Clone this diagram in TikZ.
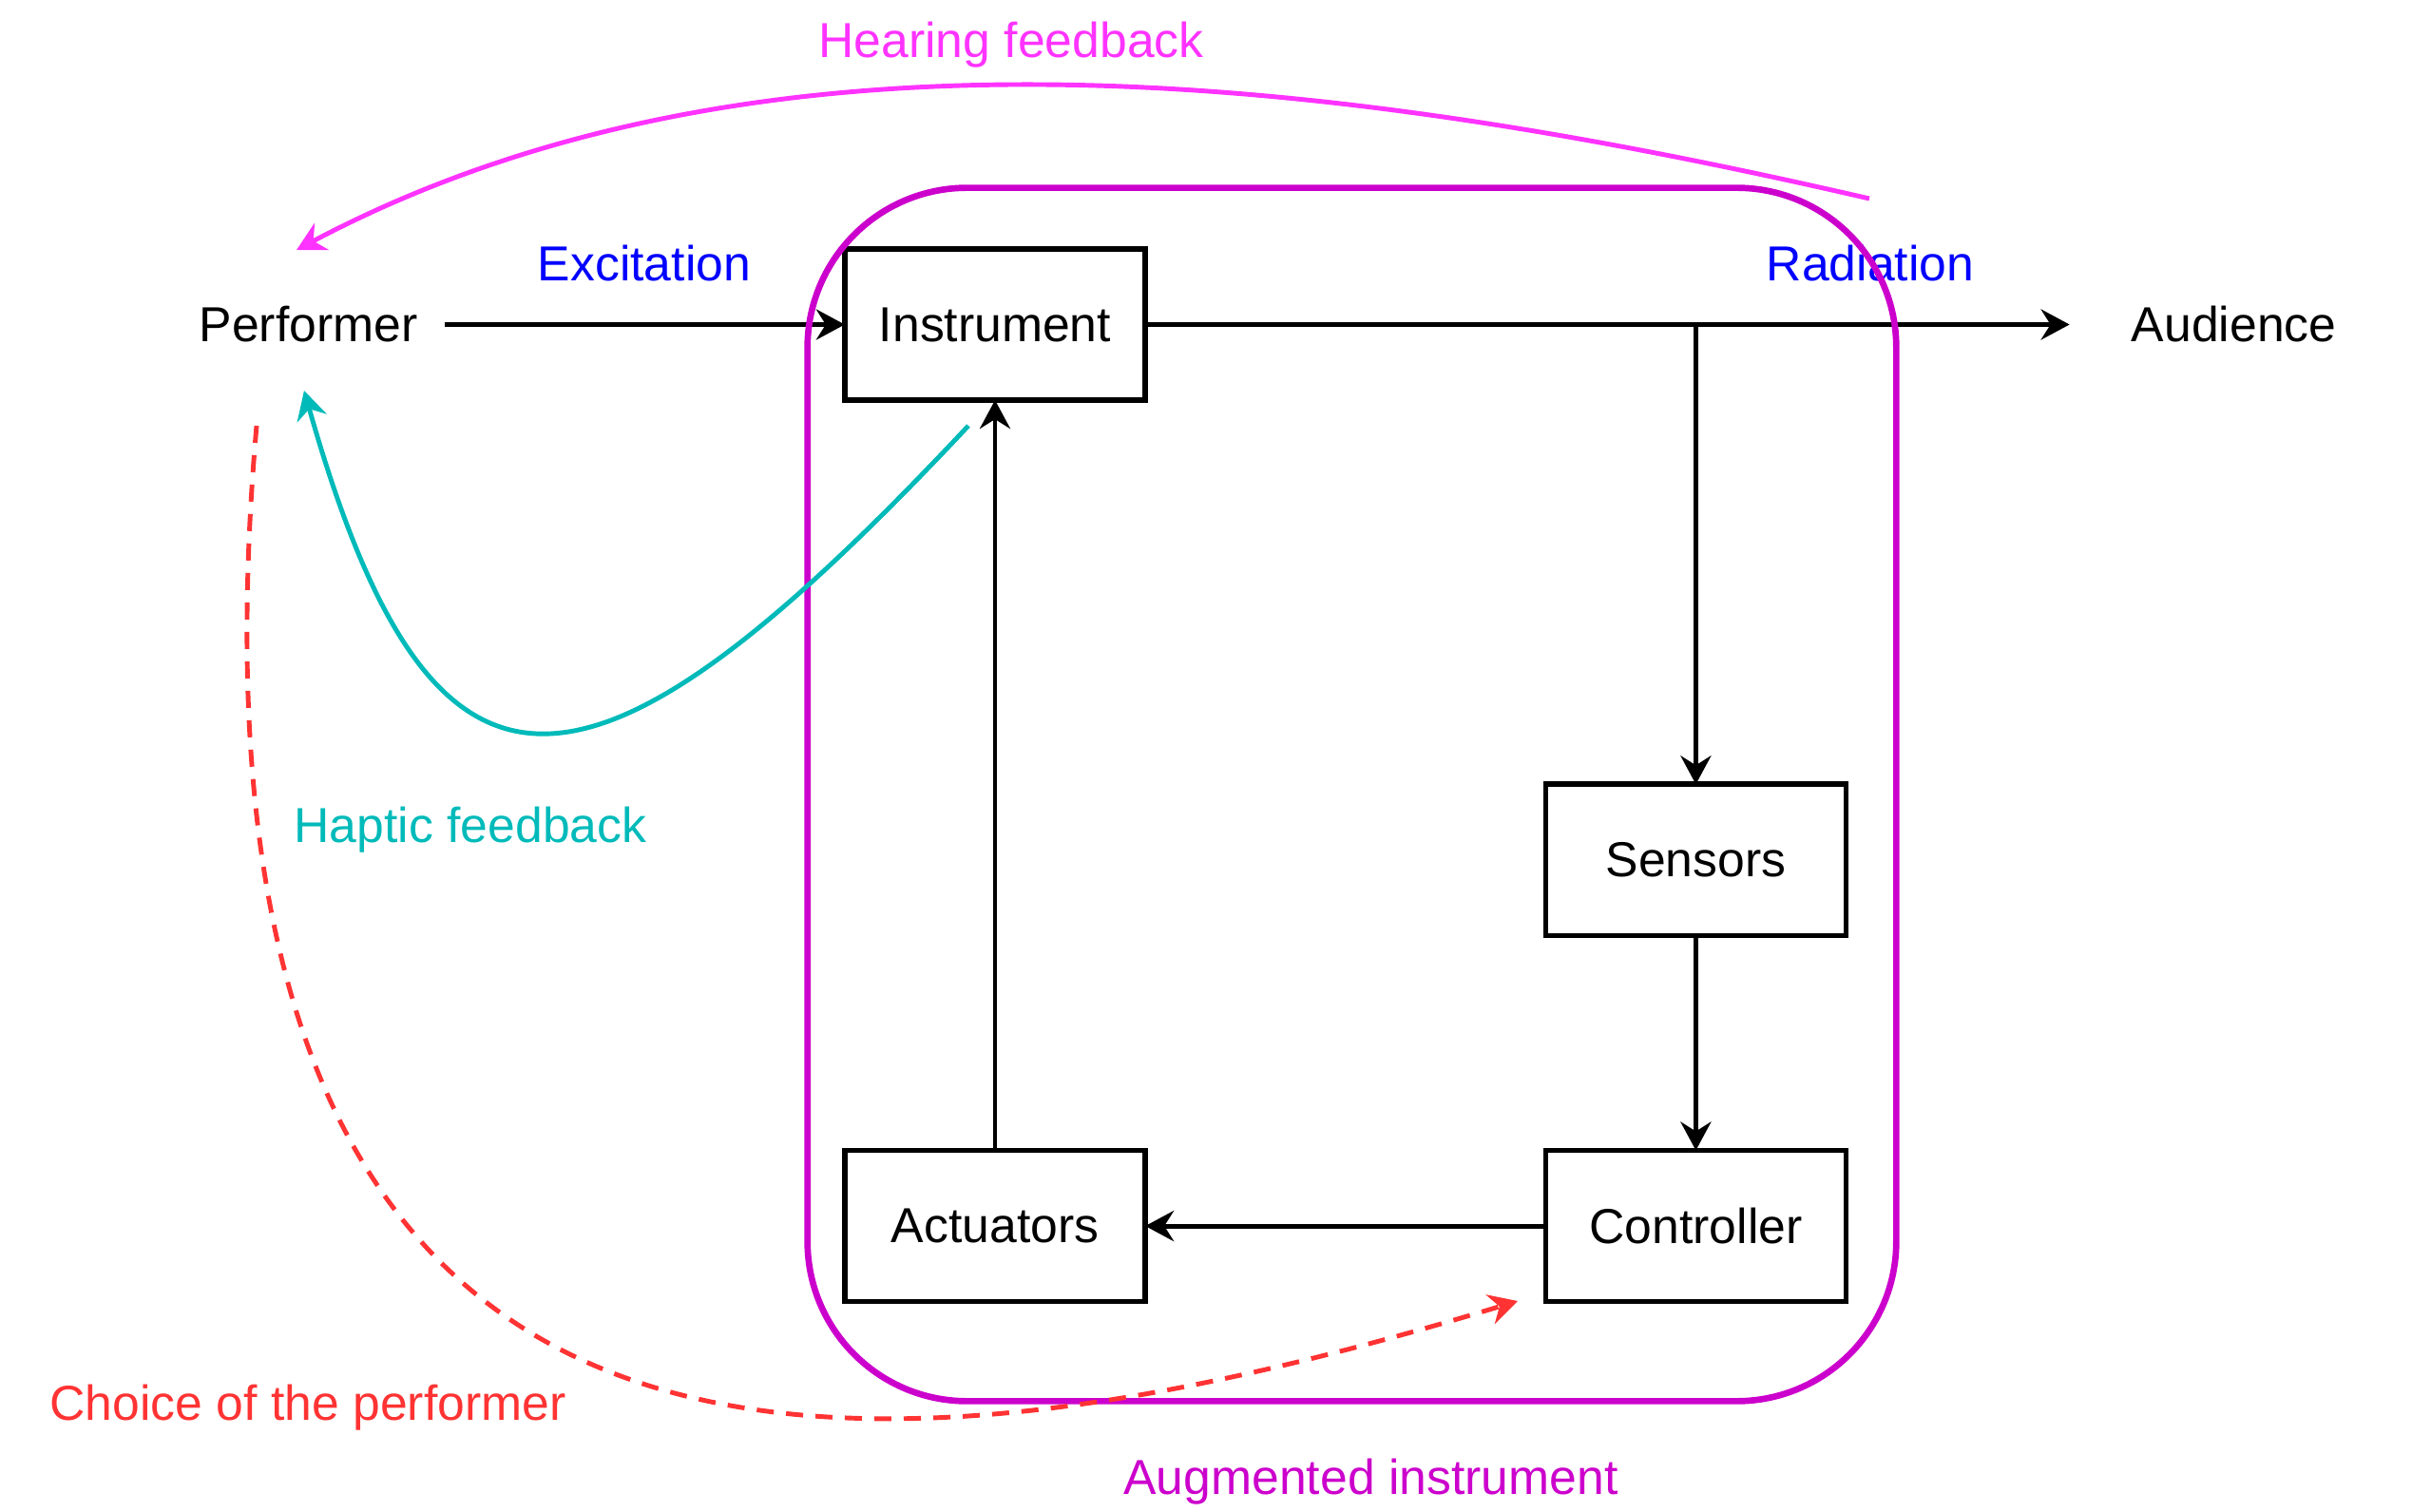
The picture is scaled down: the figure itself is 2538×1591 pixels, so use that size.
\documentclass[tikz,border=0pt]{standalone}
\usepackage{fontspec}
\setmainfont{Liberation Sans}
\usetikzlibrary{arrows.meta, positioning}
\definecolor{hearing}{HTML}{FF33FF}
\definecolor{augment}{HTML}{CC00CC}
\definecolor{signal}{HTML}{0000FF}
\definecolor{haptic}{HTML}{00BABA}
\definecolor{choice}{HTML}{FF3333}

\begin{document}
\begin{tikzpicture}[
  x=0.01cm, y=-0.01cm,
  font=\fontsize{14.7}{17.6}\selectfont,
  block/.style={draw=black, line width=1.6pt, minimum width=3.16cm,
                minimum height=1.59cm, inner sep=0pt, outer sep=0pt},
  actor/.style={inner sep=0pt, outer sep=0pt, minimum height=1.59cm},
  lbl/.style={anchor=base, inner sep=0pt},
  arr/.style={-{Stealth[length=0.3cm, width=0.32cm, inset=0.1cm]}, line width=1.4pt},
  fb/.style={-{Stealth[length=0.3cm, width=0.32cm, inset=0.1cm]}, line width=1.4pt}
]
  \useasboundingbox (0,0) rectangle (2538,1591);

  \node[block] (instrument) at (1047,341.5) {Instrument};
  \node[block, below=7.89cm of instrument] (actuators) {Actuators};
  \node[block, right=4.21cm of actuators] (controller) {Controller};
  \node[block, above=2.26cm of controller] (sensors) {Sensors};
  \node[actor, minimum width=2.86cm, left=4.21cm of instrument] (performer) {Performer};
  \node[actor, minimum width=3.46cm, right=9.72cm of instrument] (audience) {Audience};

  \coordinate (split) at (sensors.north |- instrument.east);
  \draw[arr] (performer) -- (instrument);
  \draw[arr] (instrument) -- (audience);
  \draw[arr] (split) -- (sensors);
  \draw[arr] (sensors) -- (controller);
  \draw[arr] (controller) -- (actuators);
  \draw[arr] (actuators) -- (instrument);

  \node[lbl, text=signal] (excitation) at (678,296) {Excitation};
  \node[lbl, text=signal] (radiation) at (1968,296) {Radiation};
  \node[lbl, text=hearing] (hearinglbl) at (1064,61) {Hearing feedback};
  \node[lbl, text=haptic] (hapticlbl) at (495,886) {Haptic feedback};
  \node[lbl, text=choice] (choicelbl) at (324,1494) {Choice of the performer};
  \node[lbl, text=augment] (auglbl) at (1442.5,1572) {Augmented instrument};

  % augmented instrument frame
  \node[draw=augment, line width=1.9pt, rounded corners=1.68cm, minimum width=11.45cm,
        minimum height=12.76cm, inner sep=0pt] (augbox) at (1422.5,836) {};

  % feedback loops
  \coordinate (hearstart) at (1967,209);
  \coordinate (hearend) at (312,263);
  \draw[fb, hearing] (hearstart) .. controls (1383,74) and (791,9) .. (hearend);

  \coordinate (hapstart) at (1019,448);
  \coordinate (hapend) at (320,411);
  \draw[fb, haptic] (hapstart) .. controls (618,876) and (456,891) .. (hapend);

  \coordinate (choicestart) at (270,448);
  \coordinate (choiceend) at (1597,1369);
  \draw[fb, choice, dash pattern=on 0.18cm off 0.13cm]
    (choicestart) .. controls (165,1650) and (900,1580) .. (choiceend);
\end{tikzpicture}
\end{document}
